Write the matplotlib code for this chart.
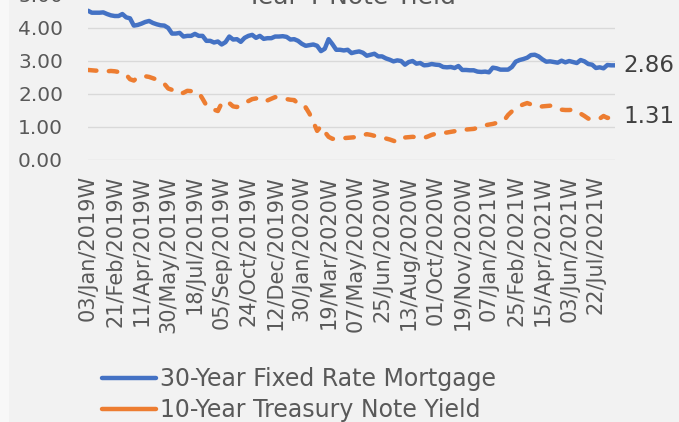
import matplotlib
matplotlib.use("Agg")
import matplotlib.pyplot as plt
from matplotlib.lines import Line2D
from matplotlib.patches import Rectangle

# weekly data, 03 Jan 2019 -> 26 Aug 2021
mortgage_30y = [
    4.51, 4.45, 4.45, 4.45, 4.46, 4.41, 4.37, 4.35, 4.35, 4.41,
    4.31, 4.28, 4.06, 4.08, 4.12, 4.17, 4.20, 4.14, 4.10, 4.07,
    4.06, 3.99, 3.82, 3.82, 3.84, 3.73, 3.75, 3.75, 3.81, 3.75,
    3.75, 3.60, 3.60, 3.55, 3.58, 3.49, 3.56, 3.73, 3.64, 3.65,
    3.57, 3.69, 3.75, 3.78, 3.69, 3.75, 3.66, 3.68, 3.68, 3.73,
    3.73, 3.74, 3.72, 3.64, 3.65, 3.60, 3.51, 3.45, 3.47, 3.49,
    3.45, 3.29, 3.36, 3.65, 3.50, 3.33, 3.33, 3.31, 3.33, 3.23,
    3.26, 3.28, 3.24, 3.15, 3.18, 3.21, 3.13, 3.13, 3.07, 3.03,
    2.98, 3.01, 2.99, 2.88, 2.96, 2.99, 2.91, 2.93, 2.86, 2.87,
    2.90, 2.88, 2.87, 2.81, 2.80, 2.81, 2.78, 2.84, 2.72, 2.72,
    2.71, 2.71, 2.67, 2.66, 2.67, 2.65, 2.79, 2.77, 2.73, 2.73,
    2.73, 2.81, 2.97, 3.02, 3.05, 3.09, 3.17, 3.18, 3.13, 3.04,
    2.97, 2.98, 2.96, 2.94, 3.00, 2.95, 2.99, 2.96, 2.93, 3.02,
    2.98, 2.90, 2.88, 2.78, 2.80, 2.77, 2.87, 2.86, 2.86,
]
treasury_10y = [
    2.72, 2.71, 2.70, 2.70, 2.69, 2.68, 2.69, 2.68, 2.66, 2.64,
    2.58, 2.44, 2.40, 2.50, 2.51, 2.53, 2.51, 2.47, 2.43, 2.36,
    2.30, 2.16, 2.12, 2.08, 2.00, 2.03, 2.09, 2.08, 2.06, 2.04,
    1.85, 1.65, 1.58, 1.52, 1.48, 1.72, 1.78, 1.72, 1.62, 1.60,
    1.66, 1.74, 1.78, 1.84, 1.86, 1.82, 1.76, 1.80, 1.85, 1.90,
    1.88, 1.85, 1.84, 1.82, 1.81, 1.70, 1.59, 1.59, 1.40, 1.15,
    0.88, 1.02, 0.85, 0.70, 0.64, 0.64, 0.65, 0.66, 0.67, 0.68,
    0.69, 0.71, 0.75, 0.78, 0.76, 0.73, 0.71, 0.68, 0.65, 0.62,
    0.58, 0.54, 0.60, 0.68, 0.69, 0.70, 0.69, 0.68, 0.67, 0.71,
    0.76, 0.79, 0.81, 0.82, 0.83, 0.85, 0.87, 0.90, 0.92, 0.92,
    0.93, 0.94, 0.97, 1.02, 1.05, 1.07, 1.09, 1.12, 1.15, 1.20,
    1.36, 1.47, 1.56, 1.63, 1.68, 1.72, 1.68, 1.63, 1.60, 1.62,
    1.63, 1.64, 1.62, 1.58, 1.52, 1.51, 1.51, 1.52, 1.49, 1.40,
    1.33, 1.25, 1.24, 1.23, 1.25, 1.33, 1.27, 1.29, 1.31,
]
tick_labels = [
    "03/Jan/2019W", "21/Feb/2019W", "11/Apr/2019W", "30/May/2019W",
    "18/Jul/2019W", "05/Sep/2019W", "24/Oct/2019W", "12/Dec/2019W",
    "30/Jan/2020W", "19/Mar/2020W", "07/May/2020W", "25/Jun/2020W",
    "13/Aug/2020W", "01/Oct/2020W", "19/Nov/2020W", "07/Jan/2021W",
    "25/Feb/2021W", "15/Apr/2021W", "03/Jun/2021W", "22/Jul/2021W",
]
series_names = ["30-Year Fixed Rate Mortgage", "10-Year Treasury Note Yield"]

BLUE = "#4472c4"
ORANGE = "#ed7d31"
TXT = "#595959"
BG = "#f2f2f2"

plt.rcParams["font.family"] = ["DejaVu Sans"]

W, H = 679, 422
fig = plt.figure(figsize=(W / 100, H / 100), dpi=100, facecolor=BG)
fig.patches.append(Rectangle((0, 0), 9 / W, 1, transform=fig.transFigure,
                             facecolor="#f8f8f8", edgecolor="none", zorder=-1))

# plot area: x 88..615 px, y(0)=160 px, 33.1 px per unit
ax = fig.add_axes([88 / W, 1 - 160 / H, 527 / W, 5 * 33.1 / H])
ax.set_facecolor(BG)

x = list(range(len(mortgage_30y)))
ax.plot(x, mortgage_30y, color=BLUE, lw=3.2, solid_capstyle="round",
        solid_joinstyle="round", zorder=3)
ax.plot(x, treasury_10y, color=ORANGE, lw=3.2, linestyle=(0, (1.9, 2.8)),
        dash_capstyle="round", dash_joinstyle="round", zorder=3)

ax.set_xlim(0, len(x) - 1)
ax.set_ylim(0, 5)
ax.set_yticks([0, 1, 2, 3, 4, 5])
ax.set_yticklabels([f"{v:.2f}" for v in [0, 1, 2, 3, 4, 5]])
ax.set_xticks(list(range(0, len(x), 7))[:len(tick_labels)])
ax.set_xticklabels(tick_labels, rotation=90)
ax.tick_params(axis="y", length=0, pad=18, labelsize=14.5, labelcolor=TXT)
ax.tick_params(axis="x", length=0, pad=11, labelsize=15, labelcolor=TXT)
ax.grid(axis="y", color="#d9d9d9", lw=1.0)
ax.set_axisbelow(True)
for s in ax.spines.values():
    s.set_visible(False)

# end value labels
for vals in (mortgage_30y, treasury_10y):
    ax.annotate(f"{vals[-1]:.2f}", (x[-1], vals[-1]),
                xytext=(24.5, 0), textcoords="offset points", ha="center",
                va="center", fontsize=16.5, color="#404040",
                annotation_clip=False)

# title (cut off at the top in the original)
fig.text(351 / W, 1 - 3.5 / H, "30-Year Fixed Rate Mortgage vs. 10-\nYear T-Note Yield",
         ha="center", va="baseline", fontsize=18, color=TXT, linespacing=1.2)

handles = [Line2D([], [], color=BLUE, lw=3.2, solid_capstyle="round"),
           Line2D([], [], color=ORANGE, lw=3.2, solid_capstyle="round")]
leg = fig.legend(handles, series_names, loc="upper left",
                 bbox_to_anchor=(102 / W, 1 - 367 / H), frameon=False,
                 fontsize=17, handlelength=2.3, handletextpad=0.17,
                 labelspacing=0.3, borderpad=0, borderaxespad=0)
for t in leg.get_texts():
    t.set_color(TXT)

fig.savefig("out.png", dpi=100, facecolor=BG)
